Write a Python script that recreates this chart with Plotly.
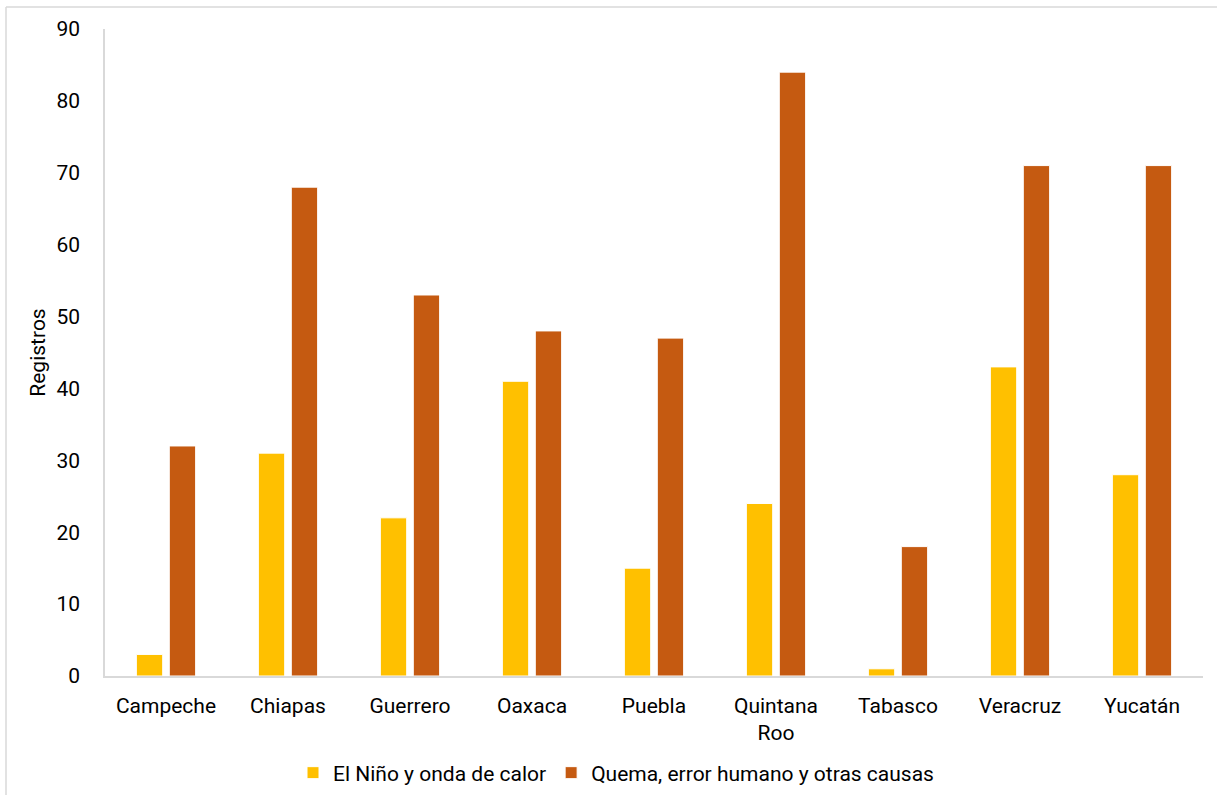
import plotly.graph_objects as go

estados = ["Campeche", "Chiapas", "Guerrero", "Oaxaca", "Puebla",
           "Quintana<br>Roo", "Tabasco", "Veracruz", "Yucatán"]
nino_calor = [3, 31, 22, 41, 15, 24, 1, 43, 28]
quema_otras = [32, 68, 53, 48, 47, 84, 18, 71, 71]
y_ticks = [0, 10, 20, 30, 40, 50, 60, 70, 80, 90]

FONT = "Roboto, sans-serif"
FS = 21
W, H = 1217, 795
ML, MR, MT, MB = 105, 14, 29, 119
PW, PH = W - ML - MR, H - MT - MB

fig = go.Figure()
fig.add_trace(go.Bar(
    x=estados, y=nino_calor, name="El Niño y onda de calor",
    marker=dict(color="#FFC000", line=dict(color="#FFFFFF", width=1)),
))
fig.add_trace(go.Bar(
    x=estados, y=quema_otras, name="Quema, error humano y otras causas",
    marker=dict(color="#C55A11", line=dict(color="#FFFFFF", width=1)),
))

fig.update_layout(
    width=W, height=H,
    margin=dict(l=ML, r=MR, t=MT, b=MB, autoexpand=False),
    paper_bgcolor="white", plot_bgcolor="white",
    barmode="group", bargap=0.46, bargroupgap=0.2,
    font=dict(family=FONT, size=FS, color="#000000"),
    showlegend=True,
    legend=dict(orientation="h", x=(616 - ML) / PW, xanchor="center",
                y=-(773 - (H - MB)) / PH, yanchor="middle",
                font=dict(family=FONT, size=FS, color="#000000"),
                itemwidth=30, traceorder="normal"),
    xaxis=dict(showline=True, linecolor="#d9d9d9", linewidth=1.5,
               ticks="", showgrid=False, tickfont=dict(size=FS),
               ticklabelstandoff=10, automargin=False, fixedrange=True),
    yaxis=dict(range=[0, 90], tickvals=y_ticks, showline=True,
               linecolor="#d9d9d9", linewidth=1.5, showgrid=False,
               zeroline=False, ticks="", ticklabelstandoff=19,
               tickfont=dict(size=FS), automargin=False,
               title=dict(text="Registros", font=dict(size=FS), standoff=5)),
)

# container frame around the chart
fx = (6 - ML) / PW
fy = (H - MB - 7) / PH
fig.add_shape(type="line", xref="paper", yref="paper",
              x0=fx, x1=fx, y0=-MB / PH - 0.01, y1=fy,
              line=dict(color="#d9d9d9", width=1.5))
fig.add_shape(type="line", xref="paper", yref="paper",
              x0=fx, x1=(W - ML + 5) / PW, y0=fy, y1=fy,
              line=dict(color="#d9d9d9", width=1.5))

fig.write_html("out.html")
